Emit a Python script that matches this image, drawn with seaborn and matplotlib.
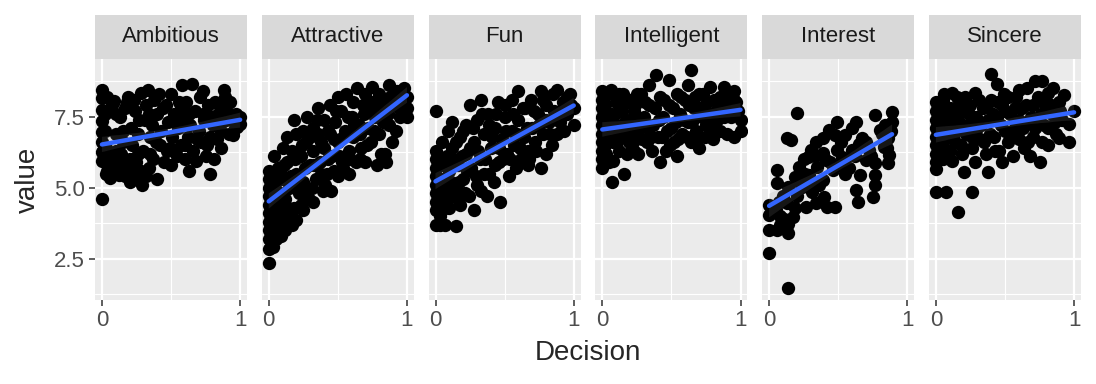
import numpy as np
import pandas as pd
import matplotlib
matplotlib.use("Agg")
import matplotlib.pyplot as plt
from matplotlib.patches import Rectangle
from matplotlib.ticker import AutoMinorLocator
from matplotlib.collections import PolyCollection
import seaborn as sns

# facet order
traits = ["Ambitious", "Attractive", "Fun", "Intelligent", "Interest", "Sincere"]

# (Decision, value) pairs, one list per facet
ambitious_points = [
    (0.00, 8.44), (0.00, 8.15), (0.00, 7.75), (0.00, 7.35), (0.00, 6.95), (0.00, 6.60), (0.00, 6.25),
    (0.00, 5.95), (0.00, 4.60), (0.02, 7.00), (0.03, 6.40), (0.05, 5.80), (0.06, 5.35), (0.07, 7.90),
    (0.09, 8.05), (0.10, 6.90), (0.12, 5.45), (0.13, 7.50), (0.14, 6.20), (0.16, 5.60), (0.18, 8.00),
    (0.19, 8.20), (0.20, 5.20), (0.21, 7.10), (0.22, 6.50), (0.24, 7.70), (0.25, 5.90), (0.26, 6.90),
    (0.28, 8.35), (0.29, 5.10), (0.30, 6.30), (0.31, 7.40), (0.32, 7.90), (0.33, 8.45), (0.34, 5.70),
    (0.35, 6.80), (0.36, 7.20), (0.37, 6.00), (0.38, 8.10), (0.40, 5.30), (0.40, 7.60), (0.41, 8.30),
    (0.42, 6.50), (0.43, 7.00), (0.45, 5.90), (0.46, 7.90), (0.47, 6.30), (0.48, 7.30), (0.50, 8.30),
    (0.50, 5.80), (0.51, 6.80), (0.52, 7.60), (0.54, 6.10), (0.55, 7.10), (0.56, 8.00), (0.57, 6.50),
    (0.58, 8.60), (0.59, 7.40), (0.60, 6.00), (0.61, 8.00), (0.62, 6.80), (0.63, 5.60), (0.64, 7.20),
    (0.65, 8.65), (0.66, 6.30), (0.67, 7.70), (0.68, 5.95), (0.70, 7.00), (0.71, 8.20), (0.72, 6.60),
    (0.73, 8.40), (0.74, 7.40), (0.75, 6.10), (0.77, 7.90), (0.78, 5.50), (0.78, 6.80), (0.80, 7.20),
    (0.81, 6.00), (0.82, 8.00), (0.83, 6.70), (0.84, 7.60), (0.86, 7.00), (0.88, 8.45), (0.89, 8.20),
    (0.90, 7.40), (0.92, 6.90), (0.95, 6.85), (0.98, 7.15), (1.00, 7.50), (1.00, 7.25),
    (0.03, 5.50), (0.05, 6.10), (0.08, 5.60), (0.10, 6.30), (0.12, 5.90), (0.15, 6.60), (0.17, 5.40),
    (0.20, 6.00), (0.23, 5.50), (0.26, 6.20), (0.28, 5.60), (0.32, 5.40), (0.35, 6.20), (0.02, 7.60),
    (0.04, 8.20), (0.10, 7.60), (0.15, 7.00), (0.17, 7.80), (0.23, 8.10), (0.27, 7.40), (0.34, 7.60),
    (0.39, 6.60), (0.44, 7.80), (0.49, 6.40), (0.53, 7.30), (0.57, 7.80), (0.60, 6.50), (0.63, 7.60),
    (0.69, 6.70), (0.73, 7.60), (0.76, 6.50), (0.79, 7.50), (0.83, 7.20), (0.86, 6.40), (0.87, 7.80),
    (0.93, 7.60), (0.96, 7.10),
    (0.01, 6.30), (0.04, 5.60), (0.07, 6.20), (0.09, 5.90), (0.13, 5.80), (0.18, 5.80), (0.22, 5.90),
    (0.25, 5.40), (0.97, 7.60), (0.93, 8.00),
]

attractive_points = [
    (0.00, 5.60), (0.00, 5.30), (0.00, 5.00), (0.00, 4.70), (0.00, 4.40), (0.00, 4.10), (0.00, 3.80),
    (0.00, 3.50), (0.00, 3.20), (0.00, 2.85), (0.00, 2.35), (0.02, 4.90), (0.02, 3.90), (0.04, 6.10),
    (0.05, 5.20), (0.05, 3.20), (0.05, 4.40), (0.07, 5.70), (0.07, 3.60), (0.08, 4.80), (0.10, 6.40),
    (0.10, 4.10), (0.10, 5.30), (0.12, 3.50), (0.12, 4.60), (0.13, 5.90), (0.13, 6.80), (0.15, 5.00),
    (0.15, 3.90), (0.17, 6.30), (0.18, 4.30), (0.18, 7.40), (0.20, 5.50), (0.20, 3.85), (0.20, 6.90),
    (0.22, 4.80), (0.23, 6.10), (0.25, 5.20), (0.25, 7.00), (0.25, 4.20), (0.27, 6.60), (0.28, 7.50),
    (0.29, 4.60), (0.30, 5.80), (0.32, 6.30), (0.32, 7.10), (0.32, 4.50), (0.34, 5.30), (0.36, 6.90),
    (0.36, 7.80), (0.37, 5.90), (0.39, 4.90), (0.40, 6.40), (0.40, 7.40), (0.42, 5.50), (0.44, 7.90),
    (0.44, 6.90), (0.45, 4.90), (0.46, 6.10), (0.48, 7.30), (0.50, 5.40), (0.50, 8.20), (0.50, 6.60),
    (0.52, 7.70), (0.53, 5.90), (0.55, 7.00), (0.56, 8.30), (0.58, 6.30), (0.58, 5.50), (0.60, 7.50),
    (0.61, 8.00), (0.61, 6.80), (0.63, 5.90), (0.64, 8.50), (0.65, 7.20), (0.67, 6.40), (0.68, 7.90),
    (0.70, 5.90), (0.70, 8.30), (0.72, 7.10), (0.74, 6.60), (0.75, 8.00), (0.75, 8.55), (0.77, 7.50),
    (0.78, 5.80), (0.80, 6.90), (0.80, 8.30), (0.82, 7.70), (0.84, 6.20), (0.85, 5.90), (0.85, 8.00),
    (0.87, 7.20), (0.87, 8.60), (0.89, 6.60), (0.90, 7.90), (0.92, 7.00), (0.93, 8.40), (0.95, 7.50),
    (0.95, 8.40), (0.97, 8.00), (1.00, 7.50), (1.00, 7.80),
    (0.02, 5.50), (0.02, 4.40), (0.02, 3.40), (0.03, 2.90), (0.04, 4.00), (0.06, 4.70), (0.08, 3.90),
    (0.08, 5.60), (0.09, 3.30), (0.11, 4.40), (0.11, 5.80), (0.14, 4.30), (0.16, 5.40), (0.17, 3.70),
    (0.19, 6.00), (0.21, 5.20), (0.23, 4.40), (0.24, 6.50), (0.26, 5.70), (0.28, 4.90), (0.30, 6.80),
    (0.31, 5.00), (0.33, 5.80), (0.35, 7.40), (0.38, 5.50), (0.38, 6.60), (0.41, 5.10), (0.43, 6.00),
    (0.43, 7.00), (0.47, 5.60), (0.47, 6.70), (0.49, 7.70), (0.51, 6.10), (0.54, 5.70), (0.54, 6.80),
    (0.57, 7.50), (0.59, 6.00), (0.62, 7.20), (0.66, 6.00), (0.66, 6.90), (0.69, 7.60), (0.71, 6.50),
    (0.73, 7.70), (0.76, 7.00), (0.79, 7.90), (0.81, 6.20), (0.83, 7.30), (0.86, 7.60), (0.88, 8.20),
    (0.91, 8.10), (0.94, 7.80), (0.98, 8.50), (1.00, 8.20),
]

fun_points = [
    (0.00, 7.70), (0.00, 6.30), (0.00, 6.00), (0.00, 5.70), (0.00, 5.40), (0.00, 5.10), (0.00, 4.80),
    (0.00, 4.50), (0.00, 4.20), (0.00, 3.70), (0.02, 5.90), (0.02, 4.60), (0.03, 3.70), (0.05, 6.60),
    (0.05, 5.30), (0.05, 4.20), (0.07, 4.90), (0.07, 3.70), (0.08, 6.10), (0.09, 7.00), (0.10, 5.60),
    (0.10, 4.30), (0.12, 7.30), (0.12, 6.40), (0.14, 5.00), (0.15, 3.65), (0.16, 5.80), (0.18, 6.80),
    (0.18, 4.40), (0.20, 5.30), (0.22, 6.20), (0.22, 7.20), (0.24, 4.70), (0.25, 7.90), (0.26, 5.70),
    (0.28, 6.60), (0.28, 4.20), (0.30, 7.40), (0.30, 5.10), (0.32, 6.00), (0.33, 8.10), (0.35, 6.90),
    (0.35, 5.50), (0.37, 4.70), (0.38, 7.60), (0.40, 6.40), (0.42, 5.20), (0.43, 7.10), (0.45, 8.00),
    (0.46, 5.90), (0.47, 4.50), (0.48, 6.70), (0.50, 7.50), (0.52, 6.20), (0.53, 5.40), (0.55, 7.00),
    (0.55, 8.10), (0.57, 6.50), (0.58, 5.70), (0.60, 8.40), (0.60, 7.40), (0.62, 6.00), (0.64, 6.80),
    (0.65, 7.80), (0.67, 6.30), (0.67, 5.80), (0.69, 8.10), (0.70, 7.10), (0.72, 6.60), (0.74, 7.60),
    (0.76, 5.70), (0.76, 8.40), (0.78, 6.90), (0.80, 6.20), (0.80, 7.90), (0.82, 7.30), (0.84, 6.50),
    (0.86, 7.70), (0.88, 8.45), (0.88, 6.90), (0.90, 7.30), (0.92, 8.00), (0.95, 8.20), (0.95, 7.60),
    (0.98, 7.90), (1.00, 7.80), (1.00, 7.20),
    (0.02, 5.20), (0.03, 4.00), (0.04, 5.80), (0.06, 4.50), (0.08, 5.00), (0.09, 5.90), (0.11, 5.20),
    (0.12, 4.70), (0.13, 6.00), (0.15, 6.60), (0.16, 4.60), (0.17, 5.20), (0.19, 6.10), (0.20, 7.00),
    (0.21, 4.80), (0.23, 5.60), (0.25, 6.40), (0.27, 7.10), (0.29, 5.40), (0.31, 6.30), (0.33, 4.90),
    (0.34, 7.60), (0.36, 6.00), (0.39, 5.50), (0.39, 7.20), (0.41, 6.80), (0.43, 5.80), (0.44, 7.60),
    (0.46, 6.40), (0.49, 6.00), (0.50, 7.90), (0.51, 7.00), (0.54, 6.00), (0.56, 7.60), (0.59, 6.90),
    (0.61, 6.40), (0.63, 7.80), (0.66, 7.10), (0.68, 6.00), (0.71, 7.70), (0.73, 6.30), (0.75, 7.20),
    (0.78, 8.10), (0.80, 7.40), (0.83, 6.90), (0.85, 8.30), (0.87, 7.50), (0.91, 7.70), (0.93, 7.00),
    (0.97, 8.30),
]

intelligent_points = [
    (0.00, 8.40), (0.00, 8.10), (0.00, 7.80), (0.00, 7.50), (0.00, 7.20), (0.00, 6.90), (0.00, 6.60),
    (0.00, 6.30), (0.00, 6.00), (0.00, 5.70), (0.03, 7.00), (0.03, 6.20), (0.06, 8.45), (0.06, 7.60),
    (0.07, 5.20), (0.08, 6.60), (0.08, 5.95), (0.10, 8.00), (0.10, 7.20), (0.12, 6.30), (0.14, 7.70),
    (0.15, 8.30), (0.16, 6.90), (0.16, 5.50), (0.18, 6.20), (0.20, 7.40), (0.20, 8.10), (0.22, 6.60),
    (0.24, 7.90), (0.26, 7.00), (0.26, 6.20), (0.28, 8.30), (0.30, 7.50), (0.32, 6.60), (0.34, 8.60),
    (0.34, 7.90), (0.36, 6.30), (0.37, 7.20), (0.39, 8.95), (0.40, 6.80), (0.42, 8.20), (0.42, 5.90),
    (0.44, 7.50), (0.46, 6.30), (0.48, 7.90), (0.48, 8.80), (0.50, 7.10), (0.52, 6.60), (0.54, 8.30),
    (0.54, 6.10), (0.56, 7.60), (0.58, 6.90), (0.60, 8.10), (0.62, 7.30), (0.62, 8.60), (0.64, 9.15),
    (0.64, 6.60), (0.66, 7.80), (0.68, 7.00), (0.70, 8.30), (0.70, 6.40), (0.72, 7.50), (0.74, 6.80),
    (0.76, 8.00), (0.78, 7.20), (0.78, 8.55), (0.80, 6.70), (0.82, 7.70), (0.85, 8.20), (0.85, 7.00),
    (0.88, 7.50), (0.88, 8.55), (0.90, 6.90), (0.92, 7.90), (0.95, 8.40), (0.95, 6.80), (1.00, 7.40),
    (1.00, 7.00),
    (0.02, 7.90), (0.02, 6.50), (0.04, 7.30), (0.04, 8.30), (0.05, 5.90), (0.07, 6.90), (0.09, 7.60),
    (0.11, 6.60), (0.12, 8.30), (0.13, 7.00), (0.17, 7.40), (0.18, 8.00), (0.19, 6.60), (0.21, 7.00),
    (0.23, 7.70), (0.23, 6.30), (0.25, 8.30), (0.27, 7.40), (0.29, 6.70), (0.31, 8.00), (0.33, 7.10),
    (0.35, 6.80), (0.38, 7.80), (0.41, 7.40), (0.43, 6.80), (0.45, 8.10), (0.47, 7.00), (0.49, 6.50),
    (0.51, 7.80), (0.53, 7.30), (0.55, 6.70), (0.57, 8.20), (0.59, 7.40), (0.61, 6.80), (0.63, 7.90),
    (0.65, 7.30), (0.67, 8.20), (0.69, 6.80), (0.71, 7.80), (0.73, 8.30), (0.75, 7.20), (0.77, 7.60),
    (0.79, 6.90), (0.81, 8.10), (0.83, 7.40), (0.86, 7.80), (0.90, 8.20), (0.93, 7.50), (0.97, 8.00),
    (0.95, 8.10), (0.98, 7.70), (0.90, 7.90),
]

interest_points = [
    (0.20, 7.62), (0.89, 7.68), (0.77, 7.56), (0.49, 7.32), (0.63, 7.32), (0.89, 7.32), (0.43, 7.03),
    (0.60, 7.09), (0.13, 6.74), (0.16, 6.68), (0.34, 6.62), (0.39, 6.74), (0.48, 6.85), (0.55, 6.85),
    (0.67, 6.74), (0.80, 7.03), (0.86, 6.74), (0.30, 6.33), (0.39, 6.21), (0.49, 6.33), (0.60, 6.33),
    (0.72, 6.33), (0.83, 6.44), (0.87, 6.15), (0.86, 5.86), (0.28, 6.09), (0.41, 5.97), (0.53, 6.09),
    (0.70, 5.97), (0.77, 5.86), (0.22, 5.74), (0.35, 5.74), (0.46, 5.62), (0.55, 5.50), (0.06, 5.62),
    (0.06, 5.15), (0.19, 5.39), (0.29, 5.45), (0.39, 5.27), (0.66, 5.45), (0.77, 5.45), (0.77, 5.10),
    (0.14, 5.04), (0.24, 5.04), (0.31, 4.86), (0.40, 4.68), (0.48, 4.33), (0.42, 4.33), (0.63, 4.92),
    (0.64, 4.50), (0.75, 4.68), (0.00, 4.39), (0.00, 4.04), (0.07, 4.50), (0.13, 4.45), (0.19, 4.27),
    (0.27, 4.33), (0.34, 4.45), (0.17, 3.98), (0.14, 3.74), (0.00, 3.51), (0.06, 3.51), (0.14, 3.39),
    (0.00, 2.69), (0.14, 1.46), (0.25, 6.00), (0.33, 6.10), (0.30, 5.20), (0.10, 4.70), (0.05, 4.20),
    (0.55, 6.00), (0.65, 6.55), (0.50, 5.80),
    (0.20, 4.70), (0.22, 5.20), (0.26, 5.50), (0.36, 5.10), (0.44, 5.90), (0.52, 6.60), (0.58, 5.70),
    (0.62, 6.10), (0.70, 6.60), (0.74, 6.10), (0.82, 6.90), (0.85, 6.40), (0.08, 4.00), (0.08, 3.70),
    (0.11, 3.90), (0.84, 7.20), (0.88, 7.00),
]

sincere_points = [
    (0.00, 8.00), (0.00, 7.70), (0.00, 7.40), (0.00, 7.10), (0.00, 6.80), (0.00, 6.50), (0.00, 6.20),
    (0.00, 5.90), (0.00, 5.65), (0.00, 4.85), (0.03, 7.30), (0.03, 6.40), (0.05, 8.10), (0.05, 6.00),
    (0.07, 4.85), (0.07, 7.60), (0.07, 6.80), (0.10, 7.10), (0.10, 6.30), (0.12, 8.35), (0.12, 5.95),
    (0.14, 7.80), (0.14, 6.60), (0.16, 4.15), (0.17, 7.30), (0.19, 6.20), (0.20, 5.55), (0.20, 8.00),
    (0.22, 6.90), (0.24, 7.60), (0.26, 4.85), (0.26, 6.40), (0.28, 8.35), (0.28, 5.90), (0.30, 7.10),
    (0.32, 6.70), (0.34, 7.80), (0.36, 6.20), (0.38, 5.55), (0.38, 7.40), (0.40, 9.00), (0.40, 8.10),
    (0.42, 6.80), (0.44, 8.65), (0.44, 7.50), (0.46, 6.30), (0.48, 5.90), (0.48, 7.90), (0.49, 8.30),
    (0.50, 7.00), (0.52, 6.60), (0.54, 7.60), (0.56, 6.10), (0.58, 8.20), (0.58, 7.20), (0.60, 8.45),
    (0.60, 6.70), (0.62, 7.80), (0.64, 6.40), (0.66, 8.50), (0.66, 7.30), (0.68, 6.10), (0.70, 7.90),
    (0.70, 6.80), (0.72, 8.75), (0.74, 7.40), (0.75, 5.90), (0.77, 8.75), (0.77, 6.60), (0.79, 7.90),
    (0.81, 8.35), (0.81, 6.50), (0.81, 7.10), (0.84, 7.60), (0.85, 8.50), (0.87, 6.90), (0.89, 6.75),
    (0.89, 8.00), (0.91, 7.40), (0.93, 8.25), (0.96, 7.25), (0.96, 6.60), (1.00, 7.70),
    (0.02, 7.90), (0.02, 6.90), (0.04, 7.60), (0.05, 6.60), (0.06, 8.30), (0.08, 7.20), (0.09, 6.20),
    (0.10, 7.80), (0.12, 7.50), (0.13, 6.90), (0.15, 8.20), (0.16, 7.10), (0.18, 6.50), (0.19, 7.70),
    (0.21, 8.20), (0.23, 7.20), (0.25, 7.90), (0.26, 6.80), (0.29, 7.50), (0.31, 8.10), (0.33, 7.20),
    (0.35, 6.60), (0.37, 7.90), (0.39, 6.90), (0.41, 7.60), (0.43, 6.30), (0.45, 8.00), (0.47, 7.20),
    (0.50, 7.70), (0.52, 8.20), (0.55, 7.00), (0.57, 7.80), (0.60, 7.40), (0.63, 7.10), (0.65, 7.90),
    (0.67, 6.60), (0.69, 7.50), (0.72, 7.10), (0.74, 8.20), (0.76, 7.60), (0.78, 7.20), (0.83, 7.90),
    (0.86, 7.30), (0.90, 7.70),
]

points = [ambitious_points, attractive_points, fun_points,
          intelligent_points, interest_points, sincere_points]

df = pd.concat([pd.DataFrame(p, columns=["Decision", "value"]).assign(trait=t)
                for t, p in zip(traits, points)], ignore_index=True)

# ggplot-ish look
sns.set_theme(style="dark")
plt.rcParams["font.family"] = ["Liberation Sans", "DejaVu Sans"]

fig, axes = plt.subplots(1, 6, figsize=(10.96, 3.84), dpi=100, sharey=True)
fig.subplots_adjust(left=0.0867, right=0.9863, top=0.8464, bottom=0.2188, wspace=0.097)

strip_h = 44 / 241

for i, (ax, trait) in enumerate(zip(axes, traits)):
    sub = df[df["trait"] == trait]
    ax.set_facecolor("#EBEBEB")
    sns.scatterplot(data=sub, x="Decision", y="value", color="black", s=92,
                    linewidth=0, ax=ax, zorder=3)
    sns.regplot(data=sub, x="Decision", y="value", scatter=False, ci=95, seed=0,
                color="#3366FF", line_kws={"lw": 3.2, "zorder": 5}, ax=ax)
    for coll in ax.collections:
        if isinstance(coll, PolyCollection):
            coll.set_facecolor((0.6, 0.6, 0.6, 0.4))
            coll.set_edgecolor("none")
            coll.set_zorder(4)

    ax.set_xlim(-0.05, 1.05)
    ax.set_ylim(1.05, 9.53)
    ax.set_xticks([0, 1])
    ax.set_xticklabels(["0", "1"])
    ax.set_yticks([2.5, 5.0, 7.5])
    ax.set_yticklabels(["2.5", "5.0", "7.5"])
    ax.xaxis.set_minor_locator(AutoMinorLocator(2))
    ax.yaxis.set_minor_locator(AutoMinorLocator(2))
    ax.grid(which="major", color="white", lw=1.6, zorder=0)
    ax.grid(which="minor", color="white", lw=0.8, zorder=0)
    ax.set_axisbelow(True)
    for s in ax.spines.values():
        s.set_visible(False)
    ax.tick_params(which="major", length=4.3, width=1.1, color="#333333",
                   labelsize=16, labelcolor="#4D4D4D", pad=3, bottom=True, left=(i == 0))
    ax.tick_params(which="minor", length=0)
    ax.set_xlabel("")
    ax.set_ylabel("")

    # facet strip
    ax.add_patch(Rectangle((0, 1.0), 1, strip_h, transform=ax.transAxes,
                           facecolor="#D9D9D9", edgecolor="none", clip_on=False))
    ax.text(0.5, 1.0 + strip_h / 2, trait, transform=ax.transAxes, ha="center",
            va="center", fontsize=16, color="#1A1A1A")

fig.text(0.5365, 1 - 353 / 384, "Decision", ha="center", va="center", fontsize=20)
fig.text(28 / 1096, 1 - 180 / 384, "value", ha="center", va="center", rotation=90, fontsize=20)

fig.savefig("out.png", dpi=100)
